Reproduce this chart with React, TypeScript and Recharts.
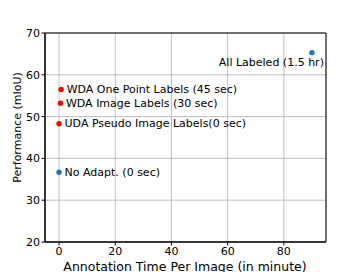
import {
  ScatterChart,
  Scatter,
  XAxis,
  YAxis,
  CartesianGrid,
  ReferenceArea,
  LabelList,
  Label,
} from "recharts";

// values
const methods = [
  "No Adapt. (0 sec)",
  "UDA Pseudo Image Labels(0 sec)",
  "WDA Image Labels (30 sec)",
  "WDA One Point Labels (45 sec)",
  "All Labeled (1.5 hr)",
];
const annotationMinutes = [0, 0, 0.5, 0.75, 90];
const miou = [36.7, 48.3, 53.2, 56.5, 65.3];
const isAdapted = [false, true, true, true, false];

const xTicks = [0, 20, 40, 60, 80];
const yTicks = [20, 30, 40, 50, 60, 70];

const FONT = "'DejaVu Sans', sans-serif";

const points = methods.map((name, i) => ({
  name,
  time: annotationMinutes[i],
  miou: miou[i],
  adapted: isAdapted[i],
}));
const redPoints = points.filter((p) => p.adapted);
const bluePoints = points.filter((p) => !p.adapted);

const dot = (color: string) => (props: any) =>
  <circle cx={props.cx} cy={props.cy} r={2.7} fill={color} />;

const pointLabel = (props: any) => {
  const { value, viewBox } = props;
  const cx = viewBox ? viewBox.x + (viewBox.width || 0) / 2 : props.x;
  const cy = viewBox ? viewBox.y + (viewBox.height || 0) / 2 : props.y;
  // the full-label point sits top-right, its text goes below-left
  const isCorner = value === "All Labeled (1.5 hr)";
  return (
    <text
      x={isCorner ? cx + 12 : cx + 5.5}
      y={isCorner ? cy + 10 : cy}
      textAnchor={isCorner ? "end" : "start"}
      dominantBaseline="central"
      fontSize={11}
      fontFamily={FONT}
      fill="#000"
    >
      {value}
    </text>
  );
};

export default function App() {
  return (
    <div style={{ position: "absolute", left: 0, top: 0, background: "#fff" }}>
      <ScatterChart
        width={363}
        height={272}
        margin={{ top: 33, right: 37, left: 0, bottom: 0 }}
      >
        <CartesianGrid stroke="#b0b0b0" strokeWidth={0.8} />
        <XAxis
          type="number"
          dataKey="time"
          domain={[-5, 95]}
          ticks={xTicks}
          height={30}
          tickSize={3.5}
          tickMargin={1.5}
          stroke="#000"
          tick={{ fill: "#000", fontSize: 11, fontFamily: FONT }}
        >
          <Label
            content={() => (
              <text
                x={185}
                y={270.5}
                textAnchor="middle"
                fontSize={12.5}
                fontFamily={FONT}
                fill="#000"
              >
                Annotation Time Per Image (in minute)
              </text>
            )}
          />
        </XAxis>
        <YAxis
          type="number"
          dataKey="miou"
          domain={[20, 70]}
          ticks={yTicks}
          width={45}
          tickSize={3.5}
          tickMargin={1.5}
          stroke="#000"
          tick={{ fill: "#000", fontSize: 11, fontFamily: FONT }}
        >
          <Label
            content={() => (
              <text
                x={17.5}
                y={127.5}
                transform="rotate(-90 17.5 127.5)"
                textAnchor="middle"
                dominantBaseline="central"
                fontSize={11}
                fontFamily={FONT}
                fill="#000"
              >
                Performance (mIoU)
              </text>
            )}
          />
        </YAxis>
        <ReferenceArea
          x1={-5}
          x2={95}
          y1={20}
          y2={70}
          fill="none"
          stroke="#000"
          strokeWidth={1}
        />
        <Scatter
          data={bluePoints}
          shape={dot("#1f77b4")}
          isAnimationActive={false}
        >
          <LabelList dataKey="name" content={pointLabel} />
        </Scatter>
        <Scatter
          data={redPoints}
          shape={dot("#ff0000")}
          isAnimationActive={false}
        >
          <LabelList dataKey="name" content={pointLabel} />
        </Scatter>
      </ScatterChart>
    </div>
  );
}
